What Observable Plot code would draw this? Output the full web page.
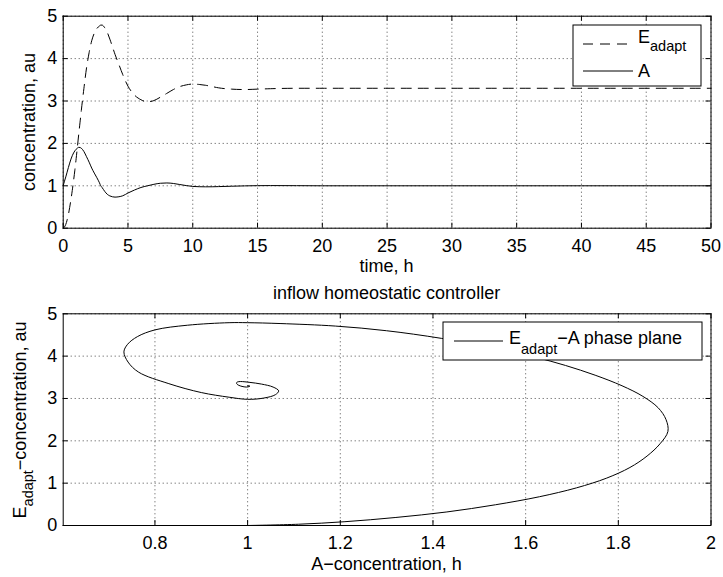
<!DOCTYPE html>
<html><head><meta charset="utf-8">
<script src="https://cdn.jsdelivr.net/npm/d3@7"></script>
<script src="https://cdn.jsdelivr.net/npm/@observablehq/plot@0.6"></script>
<style>
body{margin:0;background:#fff}
#chart{position:relative;width:723px;height:577px;background:#fff}
#chart svg{position:absolute;left:0}
</style>
</head><body><div id="chart"></div>
<script>
// ---- data ----
const timeH = [0,0.1,0.2,0.3,0.4,0.5,0.6,0.7,0.8,0.9,1.0,1.1,1.2,1.3,1.4,1.5,1.6,1.7,1.8,1.9,2.0,2.2,2.4,2.6,2.8,2.9,3.0,3.2,3.4,3.6,3.8,4.0,4.3,4.6,5.0,5.5,6.0,6.5,7.0,7.5,8.0,8.5,9.0,9.5,10,10.5,11,11.5,12,13,14,15,16,18,20,25,30,40,50];
const aConc = [1.000,1.11,1.21,1.32,1.43,1.535,1.63,1.71,1.775,1.825,1.862,1.89,1.907,1.903,1.886,1.853,1.808,1.75,1.686,1.623,1.558,1.418,1.30,1.19,1.07,1.00,0.96,0.87,0.80,0.762,0.741,0.733,0.742,0.765,0.83,0.90,0.96,1.00,1.035,1.06,1.067,1.055,1.03,1.005,0.985,0.978,0.976,0.977,0.981,0.99,0.998,1.003,1.005,1.003,1.0,1.0,1.0,1.0,1.0];
const eAdapt = [0.00,0.03,0.09,0.19,0.32,0.49,0.68,0.89,1.12,1.37,1.64,1.93,2.22,2.50,2.78,3.05,3.30,3.55,3.78,3.97,4.14,4.42,4.60,4.71,4.77,4.79,4.79,4.73,4.62,4.46,4.28,4.10,3.86,3.62,3.35,3.14,3.03,2.98,3.01,3.09,3.18,3.27,3.34,3.38,3.40,3.39,3.37,3.34,3.31,3.28,3.27,3.28,3.29,3.30,3.30,3.30,3.30,3.30,3.30];
const timeTicks = [0,5,10,15,20,25,30,35,40,45,50];
const concTicks = [0,1,2,3,4,5];
const aTicks = [0.8,1,1.2,1.4,1.6,1.8,2];
const timeDomain = [0,50];
const concDomain = [0,5];
const aDomain = [0.602,2];
const topXLabel = "time, h";
const topYLabel = "concentration, au";
const bottomTitle = "inflow homeostatic controller";
const bottomXLabel = "A\u2212concentration, h";
const bottomYLabel = ["E","adapt","\u2212concentration, au"];
const legendTop = [["E","adapt"],["A",""]];
const legendBottom = ["E","adapt","\u2212A phase plane"];

const series = timeH.map((t,i)=>({t, A:aConc[i], E:eAdapt[i]}));

const FONT = "'Liberation Sans', Arial, Helvetica, sans-serif";
const FS = 18, SUB = 14.5;
const W = 723, ML = 62.7, MR = 12.5;
const fmt = d => String(+d.toFixed(3));

function frameMarks(xTicks, yTicks, fh, fw) {
  const tl = 5;
  const grid = {stroke:"#000", strokeOpacity:0.7, strokeDasharray:"1,3"};
  return [
    Plot.gridX(xTicks, grid),
    Plot.gridY(yTicks, grid),
    Plot.tickX(xTicks, {x:d=>d, insetTop: fh - tl, stroke:"#000"}),
    Plot.tickX(xTicks, {x:d=>d, insetBottom: fh - tl, stroke:"#000"}),
    Plot.tickY(yTicks, {y:d=>d, insetRight: fw - tl, stroke:"#000"}),
    Plot.tickY(yTicks, {y:d=>d, insetLeft: fw - tl, stroke:"#000"}),
    Plot.axisX(xTicks, {anchor:"bottom", tickSize:0, tickPadding:11, fontSize:FS, label:null, fill:"#000", tickFormat: fmt}),
    Plot.axisY(yTicks, {anchor:"left", tickSize:0, tickPadding:6, fontSize:FS, label:null, fill:"#000", tickFormat: fmt})
  ];
}

// ---- top panel ----
const H1 = 277, MT1 = 15.7, MB1 = 277 - 227.7;
const fh1 = H1 - MT1 - MB1, fw = W - ML - MR;
const topSvg = Plot.plot({
  width: W, height: H1, marginLeft: ML, marginRight: MR, marginTop: MT1, marginBottom: MB1,
  style: {fontFamily: FONT, fontSize: FS+"px", background: "transparent", color:"#000"},
  x: {domain: timeDomain, axis: null},
  y: {domain: concDomain, axis: null},
  marks: [
    ...frameMarks(timeTicks, concTicks, fh1, fw),
    Plot.line(series, {x:"t", y:"E", stroke:"#000", strokeWidth:1, strokeDasharray:"10,7", curve:"monotone-x"}),
    Plot.line(series, {x:"t", y:"A", stroke:"#000", strokeWidth:1, curve:"monotone-x"}),
    Plot.frame({stroke:"#000", strokeWidth:1})
  ]
});
topSvg.style.top = "0px";

// ---- bottom panel ----
const H2 = 300, MT2 = 313.3 - 277, MB2 = 300 - (525 - 277);
const fh2 = H2 - MT2 - MB2;
const bottomSvg = Plot.plot({
  width: W, height: H2, marginLeft: ML, marginRight: MR, marginTop: MT2, marginBottom: MB2,
  style: {fontFamily: FONT, fontSize: FS+"px", background: "transparent", color:"#000"},
  x: {domain: aDomain, axis: null},
  y: {domain: concDomain, axis: null},
  marks: [
    ...frameMarks(aTicks, concTicks, fh2, fw),
    Plot.line(series, {x:"A", y:"E", stroke:"#000", strokeWidth:1, curve:"catmull-rom"}),
    Plot.frame({stroke:"#000", strokeWidth:1})
  ]
});
bottomSvg.style.top = "277px";

const chart = document.getElementById("chart");
chart.appendChild(topSvg);
chart.appendChild(bottomSvg);

// ---- labels & legends ----
const cx = ML + fw/2;
const gT = d3.select(topSvg).append("g").attr("font-family", FONT).attr("fill", "#000").attr("text-anchor","start");
gT.append("text").attr("x", cx).attr("y", 272).attr("text-anchor","middle").attr("font-size",FS).text(topXLabel);
gT.append("text").attr("transform","translate(35,122) rotate(-90)").attr("text-anchor","middle").attr("font-size",FS).text(topYLabel);
// top legend
gT.append("rect").attr("x",573).attr("y",25).attr("width",128).attr("height",61).attr("fill","#fff").attr("stroke","#000");
gT.append("line").attr("x1",583).attr("x2",633).attr("y1",44).attr("y2",44).attr("stroke","#000").attr("stroke-dasharray","10,7");
gT.append("line").attr("x1",583).attr("x2",633).attr("y1",71).attr("y2",71).attr("stroke","#000");
const l1 = gT.append("text").attr("x",638).attr("y",43).attr("font-size",FS).attr("text-anchor","start");
l1.append("tspan").text(legendTop[0][0]);
l1.append("tspan").attr("font-size",SUB).attr("dy",8).text(legendTop[0][1]);
gT.append("text").attr("x",638).attr("y",77).attr("font-size",FS).attr("text-anchor","start").text(legendTop[1][0]);

const gB = d3.select(bottomSvg).append("g").attr("font-family", FONT).attr("fill", "#000").attr("text-anchor","start");
const oy = 277;
gB.append("text").attr("x", cx).attr("y", 299 - oy).attr("text-anchor","middle").attr("font-size",FS).text(bottomTitle);
gB.append("text").attr("x", cx).attr("y", 570 - oy).attr("text-anchor","middle").attr("font-size",FS).text(bottomXLabel);
const yl = gB.append("text").attr("transform",`translate(26,${420-oy}) rotate(-90)`).attr("text-anchor","middle").attr("font-size",FS);
yl.append("tspan").text(bottomYLabel[0]);
yl.append("tspan").attr("font-size",SUB).attr("dy",7).text(bottomYLabel[1]);
yl.append("tspan").attr("dy",-7).text(bottomYLabel[2]);
// bottom legend
gB.append("rect").attr("x",443).attr("y",322-oy).attr("width",259).attr("height",38).attr("fill","#fff").attr("stroke","#000");
gB.append("line").attr("x1",454).attr("x2",503).attr("y1",341-oy).attr("y2",341-oy).attr("stroke","#000");
const l2 = gB.append("text").attr("x",509).attr("y",344-oy).attr("font-size",FS).attr("text-anchor","start");
l2.append("tspan").text(legendBottom[0]);
l2.append("tspan").attr("font-size",SUB).attr("dy",10).text(legendBottom[1]);
l2.append("tspan").attr("dy",-10).text(legendBottom[2]);
</script>
</body></html>
